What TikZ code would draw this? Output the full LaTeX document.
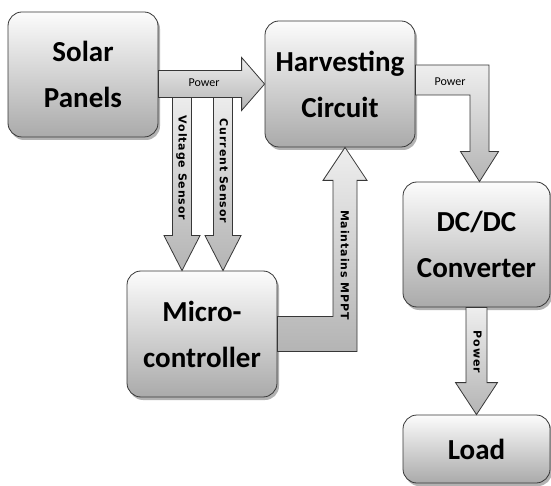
\documentclass[tikz,border=0pt]{standalone}
\usepackage{fontspec}
\setmainfont{Carlito}
\newfontfamily\tagfont{DejaVu Sans}[LetterSpace=8]
\usetikzlibrary{calc, shadows}
\definecolor{boxedge}{RGB}{55, 55, 55}
\definecolor{boxtop}{RGB}{252, 252, 252}
\definecolor{boxbottom}{RGB}{170, 170, 170}
\definecolor{arrowlight}{RGB}{238, 238, 238}
\definecolor{arrowdark}{RGB}{180, 180, 180}

\begin{document}
\begin{tikzpicture}[x=1pt, y=1pt,
  block/.style={draw=boxedge, thick, rounded corners=14pt, top color=boxtop,
                bottom color=boxbottom, align=center, inner sep=0pt,
                font=\fontsize{29}{46}\selectfont\bfseries,
                drop shadow={shadow xshift=2pt, shadow yshift=-3pt, opacity=0.6}},
  fat/.style={draw=boxedge, thick, top color=arrowlight, bottom color=arrowdark},
  flowtag/.style={font=\fontsize{12}{14}\selectfont, inner sep=0pt},
  sidetag/.style={font=\tagfont\fontsize{11}{13}\selectfont\bfseries, inner sep=0pt, rotate=-90}]
  \path[use as bounding box, fill=white] (0,0) rectangle (551,-486);

  % blocks
  \node[block, minimum width=150pt, minimum height=125pt] (solar) at (83,-74.5) {Solar\\Panels};
  \node[block, minimum width=150pt, minimum height=126pt] (harvest) at (340,-84) {Harvesting\\Circuit};
  \node[block, minimum width=150pt, minimum height=126pt] (micro) at (202,-334) {Micro-\\controller};
  \node[block, minimum width=147pt, minimum height=125pt] (dcdc) at (476.5,-244.5) {DC/DC\\Converter};
  \node[block, minimum width=147pt, minimum height=68pt] (load) at (476.5,-449) {Load};

  % sensor arrows (under the power arrow)
  \draw[fat] ($(micro.north)+(-20,0)$) -- ++(-18,35) -- ++(8.5,0) -- ++(0,145)
    -- ++(19,0) -- ++(0,-145) -- ++(8.5,0) -- cycle;
  \draw[fat] ($(micro.north)+(21,0)$) -- ++(-18,35) -- ++(8.5,0) -- ++(0,145)
    -- ++(19,0) -- ++(0,-145) -- ++(8.5,0) -- cycle;

  % power arrows
  \draw[fat] (harvest.west) -- ++(-23,26.5) -- ++(0,-13)
    -- ($(solar.east |- harvest.west)+(0,13.5)$) -- ++(0,-27)
    -- ($(harvest.west)+(-23,-13.5)$) -- ++(0,-13) -- cycle;
  \draw[fat] ($(harvest.east)+(0,19)$) -| ($(dcdc.north)+(12.5,30)$) -- ++(9.5,0)
    -- ($(dcdc.north)+(3,0)$) -- ++(-19,30) -- ++(9.5,0) |- ($(harvest.east)+(0,-11)$) -- cycle;
  \draw[fat] (load.north) -- ++(-21,32) -- ++(10.5,0) -- ($(dcdc.south)+(-10.5,0)$)
    -- ++(21,0) -- ($(load.north)+(10.5,32)$) -- ++(10.5,0) -- cycle;

  % feedback arrow
  \draw[fat] ($(micro.east)+(0,17.5)$) -| ($(harvest.south)+(-7,-33)$) -- ++(-10,0)
    -- ($(harvest.south)+(5,0)$) -- ++(22,-33) -- ++(-10,0) |- ($(micro.east)+(0,-17.5)$) -- cycle;

  % labels
  \node[flowtag] (p1) at (204,-83) {Power};
  \node[flowtag] (p2) at (450,-82) {Power};
  \node[sidetag] (p3) at (477.5,-352) {Power};
  \node[sidetag] (vs) at (181.5,-168) {Voltage Sensor};
  \node[sidetag] (cs) at (224,-171) {Current Sensor};
  \node[sidetag] (mp) at (345,-265) {Maintains MPPT};
\end{tikzpicture}
\end{document}
